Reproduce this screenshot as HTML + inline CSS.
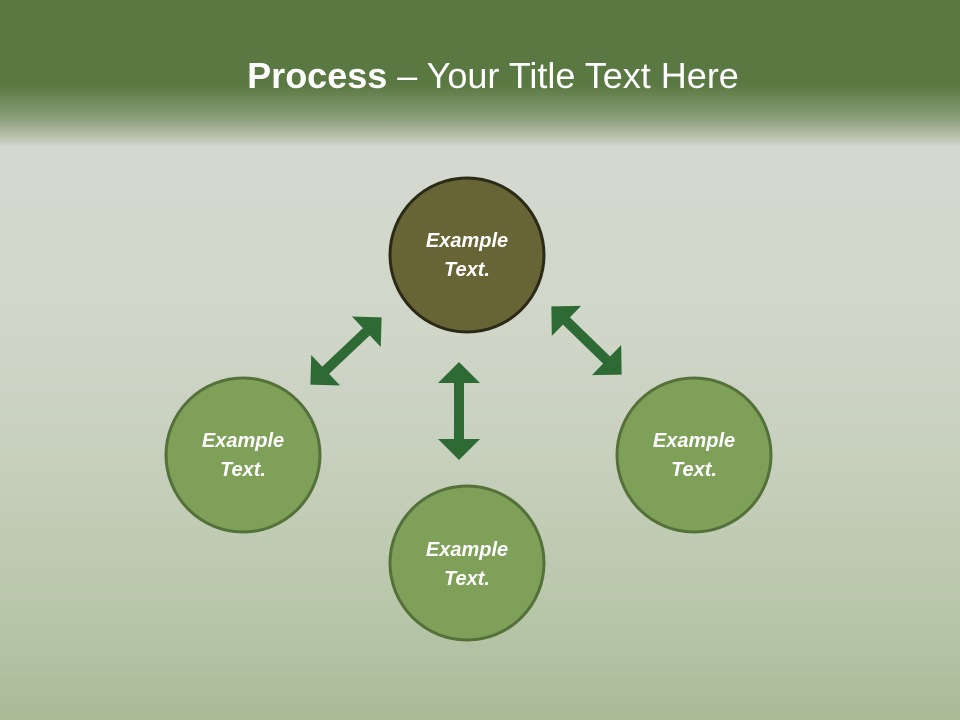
<!DOCTYPE html>
<html><head><meta charset="utf-8"><style>
html,body{margin:0;padding:0;}
body{width:960px;height:720px;overflow:hidden;position:relative;font-family:"Liberation Sans",sans-serif;
background:linear-gradient(180deg,#c9d0c2 0px,#d4d8cf 150px,#d2d7cb 300px,#c8d0be 450px,#b9c7ab 600px,#aabb98 720px);}
.hdr{position:absolute;left:0;top:0;width:960px;height:145px;
background:linear-gradient(180deg,#5a7841 0px,#5a7841 85px,rgba(90,120,65,0.6) 118px,rgba(200,206,192,0.5) 145px);}
.t{position:absolute;left:13px;top:55px;width:960px;text-align:center;color:#fff;font-size:36px;}
svg{position:absolute;left:0;top:0;}
</style></head><body>
<div class="hdr"></div>
<div class="t"><b>Process</b> – Your Title Text Here</div>
<svg width="960" height="720" viewBox="0 0 960 720">
<defs>
<polygon id="ar" points="0,-49 21,-28 5,-28 5,28 21,28 0,49 -21,28 -5,28 -5,-28 -21,-28" fill="#2e6a33"/>
</defs>
<use href="#ar" transform="translate(459,411)"/>
<use href="#ar" transform="translate(346,351) rotate(46.6)"/>
<use href="#ar" transform="translate(586.5,340.5) rotate(-45.8)"/>
<g font-family="Liberation Sans, sans-serif" font-style="italic" font-weight="bold" font-size="20" fill="#fff" text-anchor="middle">
<circle cx="467" cy="255" r="77" fill="#676535" stroke="#2b2a16" stroke-width="3"/>
<text x="467" y="247">Example</text><text x="467" y="276">Text.</text>
<circle cx="243" cy="455" r="77" fill="#7ea058" stroke="#54713a" stroke-width="3"/>
<text x="243" y="447">Example</text><text x="243" y="476">Text.</text>
<circle cx="694" cy="455" r="77" fill="#7ea058" stroke="#54713a" stroke-width="3"/>
<text x="694" y="447">Example</text><text x="694" y="476">Text.</text>
<circle cx="467" cy="563" r="77" fill="#7ea058" stroke="#54713a" stroke-width="3"/>
<text x="467" y="556">Example</text><text x="467" y="585">Text.</text>
</g>
</svg>
</body></html>
